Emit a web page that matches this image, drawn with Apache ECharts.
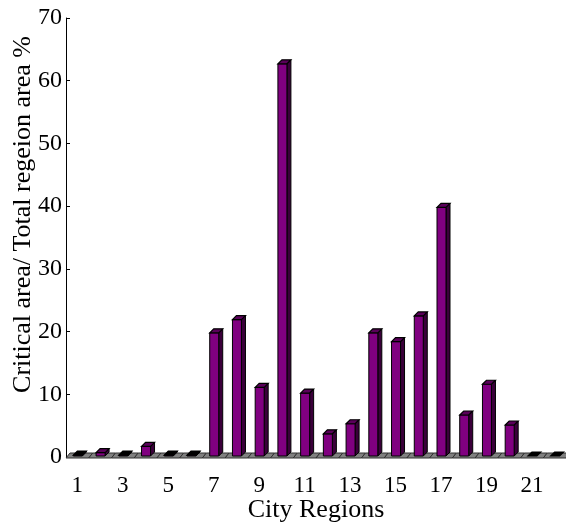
<!DOCTYPE html>
<html>
<head>
<meta charset="utf-8">
<script src="https://cdn.jsdelivr.net/npm/echarts@6/dist/echarts.min.js"></script>
<style>html,body{margin:0;padding:0;background:#fff}#c{width:566px;height:522px}</style>
</head>
<body>
<div id="c"></div>
<script>
var categories = ['1','2','3','4','5','6','7','8','9','10','11','12','13','14','15','16','17','18','19','20','21','22'];
var values = [0.3, 0.7, 0.3, 1.7, 0.3, 0.3, 19.8, 21.9, 11.1, 62.7, 10.2, 3.7, 5.3, 19.8, 18.4, 22.5, 39.8, 6.7, 11.6, 5.1, 0, 0];
var yTicks = [0, 10, 20, 30, 40, 50, 60, 70];

var chart = echarts.init(document.getElementById('c'), null, {renderer: 'canvas'});
var D = 4;
var font = '"Liberation Serif", "Times New Roman", serif';

function floorItem(params, api) {
  var idx = api.value(0);
  var c = api.coord([idx, 0]);
  var band = api.size([1, 0])[0];
  var xL = c[0] - band / 2, xR = c[0] + band / 2, y = c[1];
  return {
    type: 'polygon',
    shape: {points: [[xL, y + 1], [xR, y + 1], [xR + D, y - D], [xL + D, y - D]]},
    style: {fill: '#808080', stroke: '#303030', lineWidth: 1}
  };
}

function barItem(params, api) {
  var idx = api.value(0);
  var v = api.value(1);
  var base = api.coord([idx, 0]);
  var top = api.coord([idx, v]);
  var xL = base[0] - 4, xR = base[0] + 5;
  var yb = base[1] - 1, yt = top[1];
  if (yt > yb) yt = yb;
  var children = [];
  if (yb - yt > 0.5) {
    children.push({
      type: 'polygon',
      shape: {points: [[xR, yt], [xR + D, yt - D], [xR + D, yb - D], [xR, yb]]},
      style: {fill: '#3a003a', stroke: '#000', lineWidth: 1}
    });
    children.push({
      type: 'rect',
      shape: {x: xL, y: yt, width: xR - xL, height: yb - yt},
      style: {fill: '#800080', stroke: '#000', lineWidth: 1}
    });
  }
  children.push({
    type: 'polygon',
    shape: {points: [[xL, yt], [xR, yt], [xR + D, yt - D], [xL + D, yt - D]]},
    style: {fill: v > 0.5 ? '#5a005a' : '#000', stroke: '#000', lineWidth: 1.2}
  });
  return {type: 'group', children: children};
}

var floorData = categories.map(function (c, i) { return [i, 0]; });
var barData = values.map(function (v, i) { return [i, v]; });

chart.setOption({
  animation: false,
  backgroundColor: '#fff',
  grid: {left: 66, right: 0, top: 18, bottom: 65, containLabel: false, outerBoundsMode: 'none'},
  xAxis: {
    type: 'category',
    data: categories,
    name: 'City Regions',
    nameLocation: 'middle',
    nameGap: 40,
    nameMoveOverlap: false,
    nameTextStyle: {fontFamily: font, fontSize: 26, color: '#000'},
    axisLine: {show: false},
    axisTick: {show: false},
    axisLabel: {interval: 1, margin: 17, fontFamily: font, fontSize: 23, color: '#000'},
    splitLine: {show: false}
  },
  yAxis: {
    type: 'value',
    min: 0, max: 70, interval: 10,
    name: 'Critical area/ Total regeion area %',
    nameLocation: 'middle',
    nameGap: 30,
    nameMoveOverlap: false,
    nameTextStyle: {fontFamily: font, fontSize: 26, color: '#000', padding: [0, 0, 0, 46]},
    axisLine: {show: true, lineStyle: {color: '#000', width: 1}},
    axisTick: {show: true, inside: true, length: 4, lineStyle: {color: '#000'}},
    axisLabel: {margin: 4, fontFamily: font, fontSize: 24, color: '#000',
      formatter: function (v) { return yTicks.indexOf(v) >= 0 ? String(v) : ''; }},
    splitLine: {show: false}
  },
  series: [
    {type: 'custom', renderItem: floorItem, data: floorData, z: 1, silent: true},
    {type: 'custom', renderItem: barItem, data: barData, z: 2, silent: true}
  ]
});
</script>
</body>
</html>
